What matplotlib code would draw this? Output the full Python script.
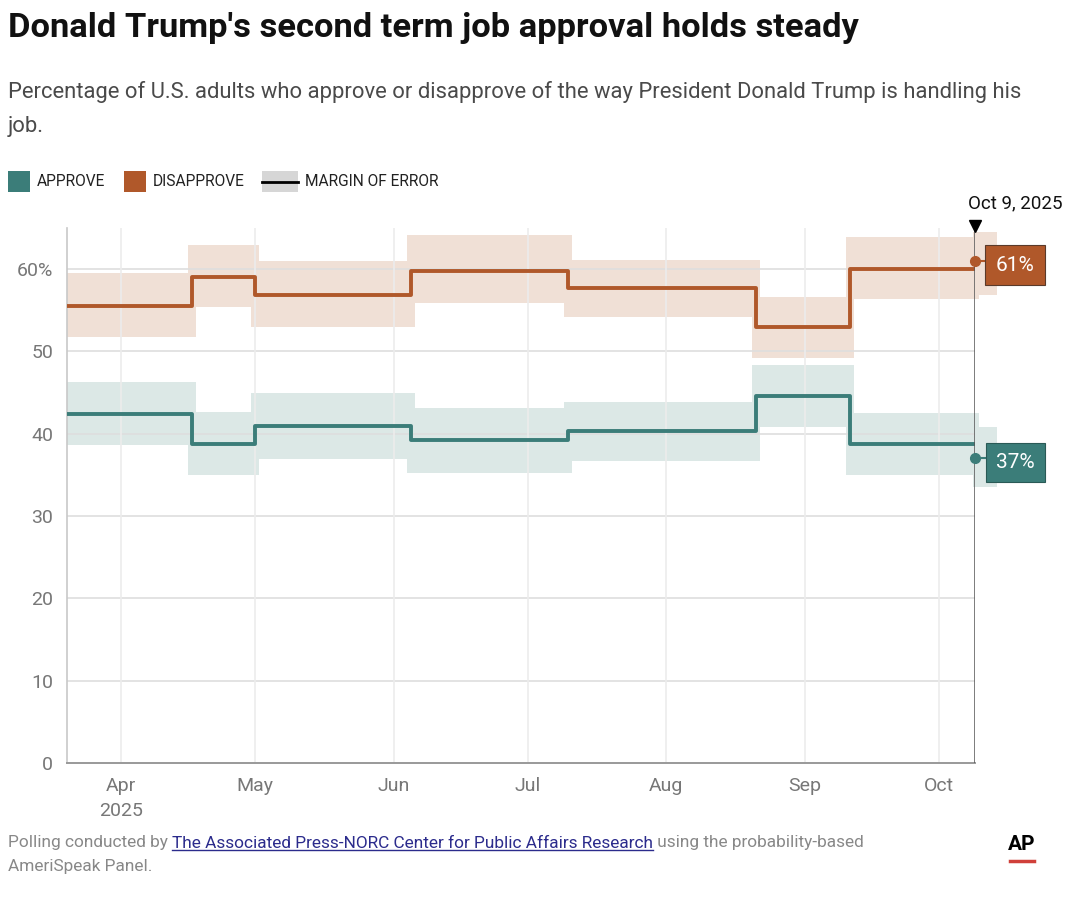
import numpy as np
import pandas as pd
import matplotlib
matplotlib.use('Agg')
import matplotlib.pyplot as plt
import matplotlib.dates as mdates
from matplotlib.patches import Rectangle

plt.rcParams['font.family'] = ['Roboto', 'DejaVu Sans']

# poll start dates (AP-NORC)
poll_dates = ['2025-03-20', '2025-04-17', '2025-05-01', '2025-06-05',
              '2025-07-10', '2025-08-21', '2025-09-11', '2025-10-09']
approve = [42.4, 38.8, 41.0, 39.2, 40.3, 44.6, 38.7, 37.0]
approve_lo = [38.6, 35.0, 36.9, 35.2, 36.7, 40.8, 35.0, 33.5]
approve_hi = [46.3, 42.6, 44.9, 43.1, 43.9, 48.3, 42.5, 40.8]
disapprove = [55.5, 59.1, 56.9, 59.8, 57.7, 53.0, 60.0, 61.0]
disapprove_lo = [51.7, 55.4, 53.0, 55.9, 54.2, 49.2, 56.4, 56.8]
disapprove_hi = [59.5, 62.9, 61.0, 64.1, 61.1, 56.6, 63.9, 64.5]
month_ticks = ['2025-04-01', '2025-05-01', '2025-06-01', '2025-07-01',
               '2025-08-01', '2025-09-01', '2025-10-01']
month_labels = ['Apr\n2025', 'May', 'Jun', 'Jul', 'Aug', 'Sep', 'Oct']
y_ticks = [0, 10, 20, 30, 40, 50, 60]
y_labels = ['0', '10', '20', '30', '40', '50', '60%']

C_APP = '#3b7d79'
C_DIS = '#b0582a'
C_APP_BAND = '#dce8e6'
C_DIS_BAND = '#f0e0d6'

dates = mdates.date2num(pd.to_datetime(poll_dates))
ticks = mdates.date2num(pd.to_datetime(month_ticks))

fig = plt.figure(figsize=(10.8, 9), dpi=100)
ax = fig.add_axes([67 / 1080, 1 - 763 / 900, (975 - 67) / 1080, (763 - 228) / 900])

ax.set_xlim(dates[0], dates[-1])
ax.set_ylim(0, 65)

# grid
for y in y_ticks[1:]:
    ax.axhline(y, color='#dedede', lw=1.2, zorder=2)
for t in ticks:
    ax.axvline(t, color='#ececec', lw=1.2, zorder=2)

# margin of error bands
pad = 0.9
for i in range(len(dates) - 1):
    x0 = dates[i] - pad if i > 0 else dates[0]
    x1 = dates[i + 1] + pad
    ax.fill_between([x0, x1], disapprove_lo[i], disapprove_hi[i], color=C_DIS_BAND,
                    lw=0, zorder=1, clip_on=False)
    ax.fill_between([x0, x1], approve_lo[i], approve_hi[i], color=C_APP_BAND,
                    lw=0, zorder=1, clip_on=False)
# latest poll band
ax.fill_between([dates[-1] - 0.5, dates[-1] + 5], disapprove_lo[-1], disapprove_hi[-1],
                color=C_DIS_BAND, lw=0, zorder=1, clip_on=False)
ax.fill_between([dates[-1] - 0.5, dates[-1] + 5], approve_lo[-1], approve_hi[-1],
                color=C_APP_BAND, lw=0, zorder=1, clip_on=False)

# step lines (held until next poll)
app_line = approve[:-1] + [approve[-2]]
dis_line = disapprove[:-1] + [disapprove[-2]]
ax.step(dates, app_line, where='post', color=C_APP, lw=2.8, zorder=4)
ax.step(dates, dis_line, where='post', color=C_DIS, lw=2.8, zorder=4)

# current marker line
ax.axvline(dates[-1], color='#555555', lw=1.8, zorder=5)
ax.plot([dates[-1]], [65.3], marker='v', color='black', ms=9, clip_on=False, zorder=6)
ax.text(dates[-1] + 9, 66.9, 'Oct 9, 2025', ha='center', va='bottom', fontsize=13.5,
        color='#111111')

# latest values: dot + boxed label
for val, col, edge in [(disapprove[-1], C_DIS, '#5a3a2a'), (approve[-1], C_APP, '#2a5a56')]:
    ax.plot([dates[-1], dates[-1] + 3], [val, val], color=col, lw=1.5, clip_on=False, zorder=6)
    ax.plot([dates[-1]], [val], 'o', color=col, ms=7, clip_on=False, zorder=7, mec=col)
    ax.text(dates[-1] + 9, val - 0.5, f'{val:.0f}%', ha='center', va='center', fontsize=15,
            color='white', zorder=8,
            bbox=dict(boxstyle='square,pad=0.5', fc=col, ec=edge, lw=0.8))

# axes styling
for s in ['top', 'right']:
    ax.spines[s].set_visible(False)
ax.spines['left'].set_color('#c8c8c8')
ax.spines['left'].set_linewidth(1.2)
ax.spines['bottom'].set_color('#999999')
ax.spines['bottom'].set_linewidth(1.4)
ax.set_yticks(y_ticks)
ax.set_yticklabels(y_labels)
ax.set_xticks(ticks)
ax.set_xticklabels(month_labels, linespacing=1.5)
ax.tick_params(length=0, labelsize=14, labelcolor='#777777')
ax.tick_params(axis='x', pad=10)
ax.tick_params(axis='y', pad=10)

# title / subtitle
fig.text(8 / 1080, 1 - 28 / 900, "Donald Trump's second term job approval holds steady",
         fontsize=24.8, fontweight='bold', color='#111111', va='center', ha='left')
fig.text(8 / 1080, 1 - 109 / 900,
         'Percentage of U.S. adults who approve or disapprove of the way President Donald Trump is handling his\njob.',
         fontsize=15.8, color='#4a4a4a', va='center', ha='left', linespacing=1.85)

# legend
fig.patches.append(Rectangle((8 / 1080, 1 - 192 / 900), 22 / 1080, 21 / 900,
                             transform=fig.transFigure, fc=C_APP, ec='none'))
fig.text(37 / 1080, 1 - 182 / 900, 'APPROVE', fontsize=11.2, color='#222222', va='center')
fig.patches.append(Rectangle((124 / 1080, 1 - 192 / 900), 22 / 1080, 21 / 900,
                             transform=fig.transFigure, fc=C_DIS, ec='none'))
fig.text(153 / 1080, 1 - 182 / 900, 'DISAPPROVE', fontsize=11.2, color='#222222', va='center')
fig.patches.append(Rectangle((262 / 1080, 1 - 192 / 900), 36 / 1080, 21 / 900,
                             transform=fig.transFigure, fc='#d6d6d6', ec='none'))
fig.lines.append(plt.Line2D([262 / 1080, 298 / 1080], [1 - 182 / 900, 1 - 182 / 900],
                            transform=fig.transFigure, color='black', lw=2))
fig.text(305 / 1080, 1 - 182 / 900, 'MARGIN OF ERROR', fontsize=11.2, color='#222222', va='center')

# footer with link segment
fig.canvas.draw()
renderer = fig.canvas.get_renderer()
x = 8 / 1080
y1 = 1 - 843 / 900
parts = [('Polling conducted by ', '#888888', False),
         ('The Associated Press-NORC Center for Public Affairs Research', '#2b2b8c', True),
         (' using the probability-based', '#888888', False)]
for txt, col, link in parts:
    t = fig.text(x, y1, txt, fontsize=12.4, color=col, va='center', ha='left')
    bb = t.get_window_extent(renderer).transformed(fig.transFigure.inverted())
    if link:
        fig.lines.append(plt.Line2D([bb.x0, bb.x1], [bb.y0 + 0.001, bb.y0 + 0.001],
                                    transform=fig.transFigure, color=col, lw=1))
    x = bb.x1
fig.text(8 / 1080, 1 - 866 / 900, 'AmeriSpeak Panel.', fontsize=12.4, color='#888888',
         va='center', ha='left')

# AP mark
fig.text(1022 / 1080, 1 - 845 / 900, 'AP', fontsize=15, fontweight='bold', color='black',
         ha='center', va='center')
fig.lines.append(plt.Line2D([1010 / 1080, 1034 / 1080], [1 - 861 / 900, 1 - 861 / 900],
                            transform=fig.transFigure, color='#d0403a', lw=2.5))

fig.savefig('out.png', dpi=100, facecolor='white')
